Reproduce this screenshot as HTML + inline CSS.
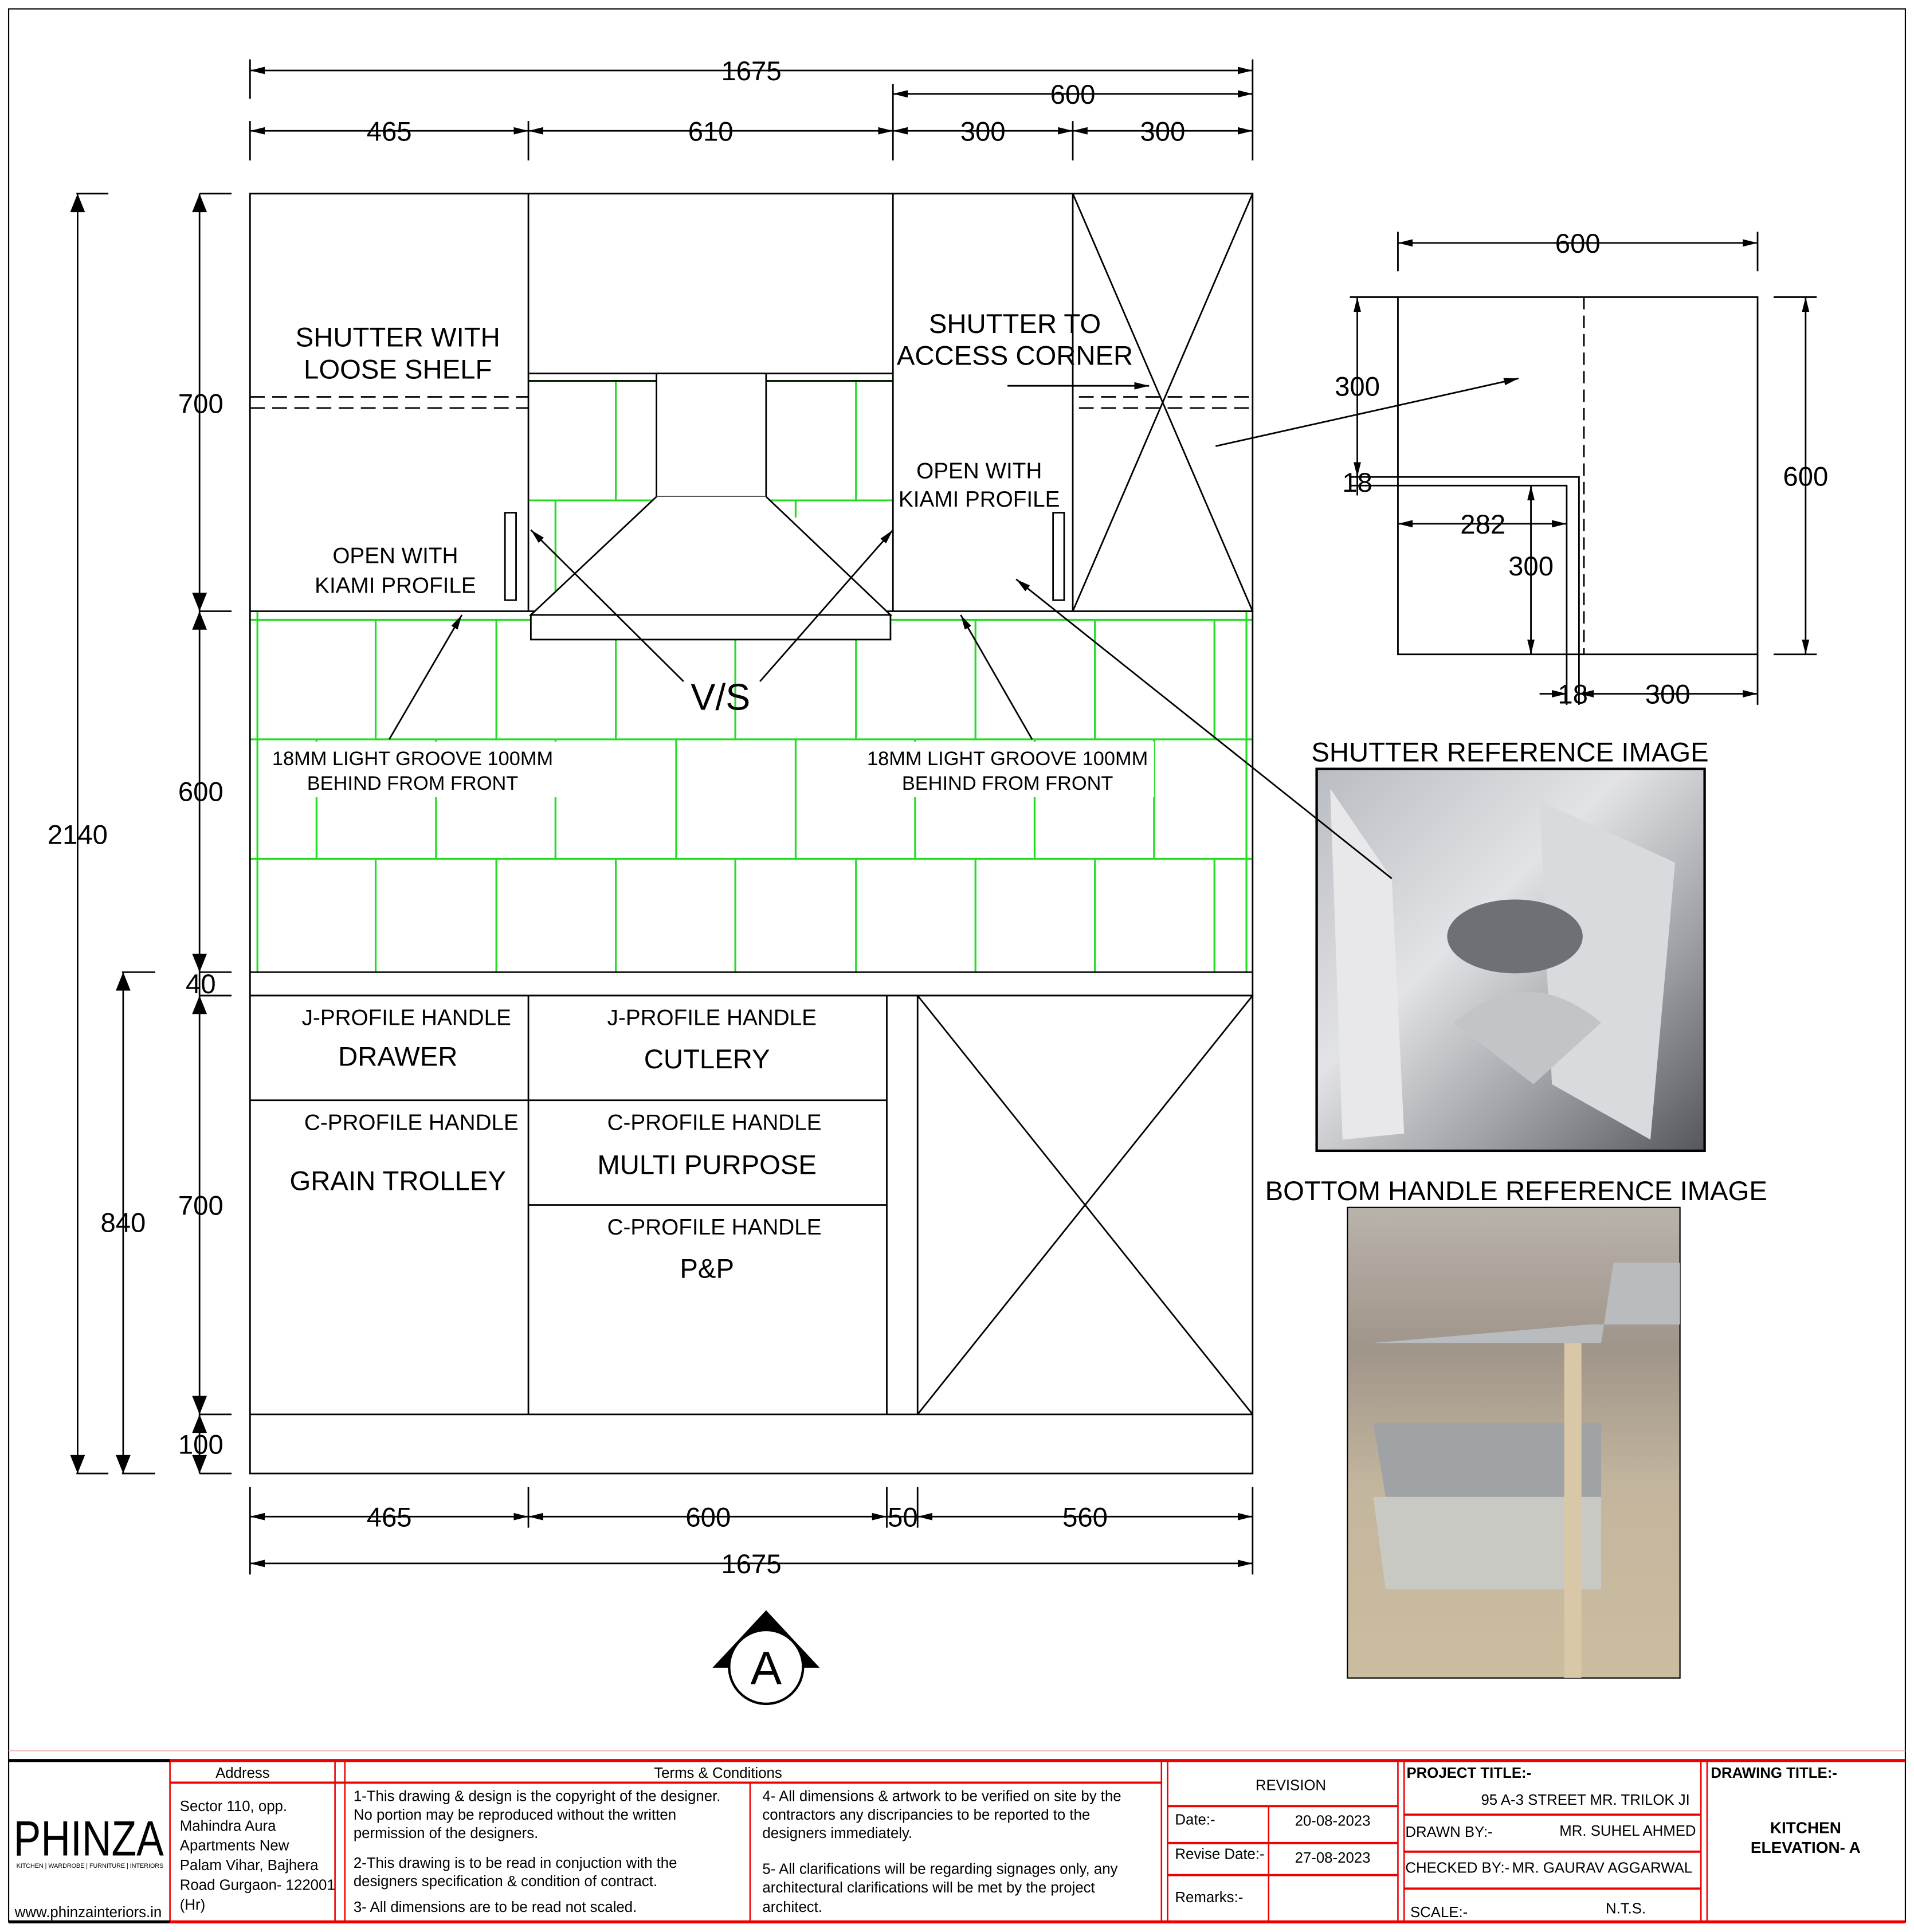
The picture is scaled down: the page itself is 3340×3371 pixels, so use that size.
<!DOCTYPE html>
<html><head><meta charset="utf-8"><style>
html,body{margin:0;padding:0;background:#fff}
svg{display:block}
text{font-family:"Liberation Sans",sans-serif;fill:#000}
</style></head><body>
<svg width="3340" height="3371" viewBox="0 0 1554 1568" xmlns="http://www.w3.org/2000/svg">
<defs>
<marker id="ar" markerWidth="12" markerHeight="6" refX="12" refY="3" orient="auto" markerUnits="userSpaceOnUse"><path d="M0,0 L12,3 L0,6 z" fill="#000"/></marker>
<marker id="al" markerWidth="12" markerHeight="6" refX="0" refY="3" orient="auto" markerUnits="userSpaceOnUse"><path d="M12,0 L0,3 L12,6 z" fill="#000"/></marker>
<linearGradient id="g1" x1="0" y1="0" x2="1" y2="1"><stop offset="0" stop-color="#b9bcc2"/><stop offset="0.4" stop-color="#e2e3e6"/><stop offset="0.7" stop-color="#9fa1a6"/><stop offset="1" stop-color="#55575c"/></linearGradient>
<linearGradient id="g2" x1="0" y1="0" x2="0" y2="1"><stop offset="0" stop-color="#b9b3ab"/><stop offset="0.3" stop-color="#a0958a"/><stop offset="0.6" stop-color="#c4b69e"/><stop offset="1" stop-color="#cbbd9f"/></linearGradient>
</defs>
<!-- photos -->
<rect x="1069" y="624" width="315" height="310" fill="url(#g1)" stroke="#000" stroke-width="2"/>
<path d="M1080 640L1130 713L1140 920L1090 925z" fill="#e8e8ea"/>
<path d="M1250 650L1360 700L1340 925L1260 880z" fill="#d9dadd"/>
<ellipse cx="1230" cy="760" rx="55" ry="30" fill="#6f7075"/>
<path d="M1180 830Q1240 780 1300 830L1245 880z" fill="#c3c4c8"/>
<rect x="1094" y="980" width="270" height="382" fill="url(#g2)" stroke="#000" stroke-width="1"/>
<path d="M1115 1090H1300L1310 1025H1364V1075H1290z" fill="#b8bcbf"/>
<path d="M1115 1155H1300V1215H1125z" fill="#9fa3a6"/>
<path d="M1115 1215H1300V1290H1125z" fill="#c9c9c4"/>
<rect x="1270" y="1090" width="14" height="272" fill="#d8c8a8"/>
<g fill="none" stroke="#000" stroke-width="1.3">
<rect x="7" y="7" width="1540" height="1553" stroke-width="1"/>
<line x1="203" y1="57" x2="1017" y2="57" marker-start="url(#al)" marker-end="url(#ar)"/>
<line x1="725" y1="76" x2="1017" y2="76" marker-start="url(#al)" marker-end="url(#ar)"/>
<line x1="203" y1="106" x2="429" y2="106" marker-start="url(#al)" marker-end="url(#ar)"/>
<line x1="429" y1="106" x2="725" y2="106" marker-start="url(#al)" marker-end="url(#ar)"/>
<line x1="725" y1="106" x2="871" y2="106" marker-start="url(#al)" marker-end="url(#ar)"/>
<line x1="871" y1="106" x2="1017" y2="106" marker-start="url(#al)" marker-end="url(#ar)"/>
<path d="M203 48V80M1017 48V130M725 68V130M203 98V130M429 98V130M871 98V130"/>
<g stroke="#22dd22" stroke-width="1.5">
<path d="M203 503H1017M203 600H1017M203 697H1017M429 309H725M429 406H725"/>
<path d="M305 503V600M403 503V600M500 519V600M597 519V600M695 519V600M792 503V600M889 503V600M986 503V600"/>
<path d="M257 600V697M354 600V697M451 600V697M549 600V697M646 600V697M743 600V697M840 600V697M937 600V697"/>
<path d="M305 697V789M403 697V789M500 697V789M597 697V789M695 697V789M792 697V789M889 697V789M986 697V789"/>
<path d="M500 309V406M695 309V406M451 406V496M549 406V420M646 406V420M209 496V789M1012 496V789"/>
</g>
<rect x="203" y="157" width="814" height="339"/>
<path d="M429 157V496M725 157V496M871 157V496M871 157L1017 496M1017 157L871 496"/>
<path d="M429 303H725M429 309H725"/>
<path d="M203 322H429M203 331H429M876 322H1017M876 331H1017" stroke-dasharray="12,6"/>
<rect x="533" y="303" width="89" height="100" fill="#fff"/>
<path d="M533 403L431 499H723L622 403" fill="#fff"/>
<rect x="431" y="499" width="292" height="20" fill="#fff"/>
<rect x="410" y="416" width="9" height="71"/>
<rect x="855" y="416" width="9" height="71"/>
<path d="M203 496V808M1017 496V808M203 789H1017M203 808H1017"/>
<rect x="203" y="808" width="814" height="388"/>
<path d="M429 808V1148M720 808V1148M745 808V1148M203 1148H1017M203 893H720M429 978H720M745 808L1017 1148M1017 808L745 1148"/>
<line x1="316" y1="600" x2="375" y2="499" marker-end="url(#ar)"/>
<line x1="838" y1="600" x2="780" y2="499" marker-end="url(#ar)"/>
<line x1="555" y1="553" x2="431" y2="430" marker-end="url(#ar)"/>
<line x1="617" y1="553" x2="725" y2="430" marker-end="url(#ar)"/>
<line x1="818" y1="313" x2="933" y2="313" marker-end="url(#ar)"/>
<line x1="987" y1="362" x2="1233" y2="307" marker-end="url(#ar)"/>
<line x1="1130" y1="713" x2="825" y2="470" marker-end="url(#ar)"/>
<path d="M63 157V1196"/>
<path d="M62 157H88M62 1196H88"/>
<path d="M100 789V1196"/>
<path d="M99 789H126M99 1196H126"/>
<path d="M162 157V1196"/>
<path d="M162 157H188M162 496H188M162 789H188M162 808H188M162 1148H188M162 1196H188"/>
<line x1="203" y1="1231" x2="429" y2="1231" marker-start="url(#al)" marker-end="url(#ar)"/>
<line x1="429" y1="1231" x2="720" y2="1231" marker-start="url(#al)" marker-end="url(#ar)"/>
<line x1="720" y1="1231" x2="745" y2="1231"/>
<line x1="745" y1="1231" x2="1017" y2="1231" marker-start="url(#al)" marker-end="url(#ar)"/>
<line x1="203" y1="1269" x2="1017" y2="1269" marker-start="url(#al)" marker-end="url(#ar)"/>
<path d="M203 1207V1278M1017 1207V1278M429 1207V1240M720 1207V1240M745 1207V1240"/>
<rect x="1135" y="241" width="292" height="290"/>
<path d="M1286 241V531" stroke-dasharray="10,5"/>
<path d="M1135 387H1282V531M1135 394H1272V531"/>
<line x1="1135" y1="197" x2="1427" y2="197" marker-start="url(#al)" marker-end="url(#ar)"/>
<path d="M1135 188V220M1427 188V220"/>
<line x1="1466" y1="241" x2="1466" y2="531" marker-start="url(#al)" marker-end="url(#ar)"/>
<path d="M1440 241H1475M1440 531H1475"/>
<line x1="1102" y1="241" x2="1102" y2="387" marker-start="url(#al)" marker-end="url(#ar)"/>
<path d="M1096 241H1135M1096 387H1135M1096 394H1135M1102 380V402"/>
<line x1="1135" y1="425" x2="1272" y2="425" marker-start="url(#al)" marker-end="url(#ar)"/>
<line x1="1243" y1="394" x2="1243" y2="531" marker-start="url(#al)" marker-end="url(#ar)"/>
<line x1="1250" y1="563" x2="1272" y2="563" marker-end="url(#ar)"/>
<line x1="1282" y1="563" x2="1427" y2="563" marker-start="url(#al)" marker-end="url(#ar)"/>
<path d="M1272 531V572M1282 531V572M1427 531V572"/>
<path d="M580 1353L622 1308L664 1353z" fill="#000"/>
<circle cx="622" cy="1353" r="30" fill="#fff" stroke-width="2"/>
</g>
<path d="M57 172L63 157L69 172z M57 1181L63 1196L69 1181z M94 804L100 789L106 804z M94 1181L100 1196L106 1181z M156 172L162 157L168 172z M156 481L162 496L168 481z M156 511L162 496L168 511z M156 774L162 789L168 774z M156 823L162 808L168 823z M156 1133L162 1148L168 1133z M156 1163L162 1148L168 1163z M156 1181L162 1196L168 1181z" fill="#000"/>
<g font-size="22" text-anchor="middle">
<text x="610" y="65">1675</text><text x="871" y="84">600</text>
<text x="316" y="114">465</text><text x="577" y="114">610</text><text x="798" y="114">300</text><text x="944" y="114">300</text>
<text x="316" y="1239">465</text><text x="575" y="1239">600</text><text x="733" y="1239">50</text><text x="881" y="1239">560</text>
<text x="610" y="1277">1675</text>
<text x="163" y="335">700</text><text x="163" y="650">600</text><text x="163" y="806">40</text><text x="163" y="986">700</text><text x="163" y="1180">100</text>
<text x="63" y="685">2140</text><text x="100" y="1000">840</text>
<text x="1281" y="205">600</text><text x="1102" y="321">300</text><text x="1102" y="399">18</text><text x="1204" y="433">282</text><text x="1243" y="467">300</text><text x="1466" y="394">600</text><text x="1277" y="571">18</text><text x="1354" y="571">300</text>
<text x="323" y="281">SHUTTER WITH</text><text x="323" y="307">LOOSE SHELF</text>
<text x="824" y="270">SHUTTER TO</text><text x="824" y="296">ACCESS CORNER</text>
<text x="1226" y="618">SHUTTER REFERENCE IMAGE</text>
<text x="1231" y="974">BOTTOM HANDLE REFERENCE IMAGE</text>
<text x="323" y="865">DRAWER</text><text x="574" y="867">CUTLERY</text>
<text x="323" y="966">GRAIN TROLLEY</text><text x="574" y="953">MULTI PURPOSE</text><text x="574" y="1037">P&amp;P</text>
<text x="585" y="576" font-size="30">V/S</text>
<text x="622" y="1367" font-size="38">A</text>
</g>
<g font-size="18" text-anchor="middle">
<text x="321" y="457">OPEN WITH</text><text x="321" y="481">KIAMI PROFILE</text>
<text x="795" y="388">OPEN WITH</text><text x="795" y="411">KIAMI PROFILE</text>
<text x="330" y="832">J-PROFILE HANDLE</text><text x="578" y="832">J-PROFILE HANDLE</text>
<text x="334" y="917">C-PROFILE HANDLE</text><text x="580" y="917">C-PROFILE HANDLE</text><text x="580" y="1002">C-PROFILE HANDLE</text>
</g>
<g font-size="16" text-anchor="middle">
<rect x="215" y="602" width="240" height="45" fill="#fff"/><rect x="697" y="602" width="240" height="45" fill="#fff"/>
<text x="335" y="621">18MM LIGHT GROOVE 100MM</text><text x="335" y="641">BEHIND FROM FRONT</text>
<text x="818" y="621">18MM LIGHT GROOVE 100MM</text><text x="818" y="641">BEHIND FROM FRONT</text>
</g>
<g stroke="#e00" fill="none" stroke-width="1.2">
<line x1="7" y1="1421" x2="1547" y2="1421" stroke="#f4c0c0"/>
<line x1="138" y1="1429" x2="1547" y2="1429" stroke-width="2.5"/>
<line x1="138" y1="1560" x2="1547" y2="1560" stroke-width="2.5"/>
<path d="M138 1429V1560M272 1429V1560M280 1429V1560M609 1447V1560M943 1429V1560M948 1429V1560M1030 1466V1560M1135 1429V1560M1140 1429V1560M1381 1429V1560M1386 1429V1560"/>
<path d="M138 1447H943M948 1466H1135M948 1496H1135M948 1522H1135M1140 1473H1381M1140 1503H1381M1140 1533H1381" stroke-width="1.8"/>
</g>
<path d="M7 1429H138M7 1560H138" stroke="#000" stroke-width="2.5"/>
<g font-size="12">
<text x="197" y="1443" text-anchor="middle">Address</text>
<text x="583" y="1443" text-anchor="middle">Terms &amp; Conditions</text>
<text x="146" y="1470">Sector 110, opp.</text><text x="146" y="1486">Mahindra Aura</text><text x="146" y="1502">Apartments New</text><text x="146" y="1518">Palam Vihar, Bajhera</text><text x="146" y="1534">Road Gurgaon- 122001</text><text x="146" y="1550">(Hr)</text>
<text x="287" y="1462">1-This drawing &amp; design is the copyright of the designer.</text><text x="287" y="1477">No portion may be reproduced without the written</text><text x="287" y="1492">permission of the designers.</text>
<text x="287" y="1516">2-This drawing is to be read in conjuction with the</text><text x="287" y="1531">designers specification &amp; condition of contract.</text>
<text x="287" y="1552">3- All dimensions are to be read not scaled.</text>
<text x="619" y="1462">4- All dimensions &amp; artwork to be verified on site by the</text><text x="619" y="1477">contractors any discripancies to be reported to the</text><text x="619" y="1492">designers immediately.</text>
<text x="619" y="1521">5- All clarifications will be regarding signages only, any</text><text x="619" y="1536">architectural clarifications will be met by the project</text><text x="619" y="1552">architect.</text>
<text x="1048" y="1453" text-anchor="middle">REVISION</text>
<text x="954" y="1481">Date:-</text><text x="1082" y="1482" text-anchor="middle">20-08-2023</text>
<text x="954" y="1509">Revise Date:-</text><text x="1082" y="1512" text-anchor="middle">27-08-2023</text>
<text x="954" y="1544">Remarks:-</text>
<text x="1142" y="1443" font-weight="bold">PROJECT TITLE:-</text>
<text x="1372" y="1465" text-anchor="end">95 A-3 STREET MR. TRILOK JI</text>
<text x="1141" y="1491">DRAWN BY:-</text><text x="1377" y="1490" text-anchor="end">MR. SUHEL AHMED</text>
<text x="1141" y="1520">CHECKED BY:-</text><text x="1374" y="1520" text-anchor="end">MR. GAURAV AGGARWAL</text>
<text x="1145" y="1556">SCALE:-</text><text x="1320" y="1553" text-anchor="middle">N.T.S.</text>
<text x="1389" y="1443" font-weight="bold">DRAWING TITLE:-</text>
<text x="1466" y="1488" text-anchor="middle" font-weight="bold" font-size="13">KITCHEN</text>
<text x="1466" y="1504" text-anchor="middle" font-weight="bold" font-size="13">ELEVATION- A</text>
<text x="12" y="1556">www.phinzainteriors.in</text>
</g>
<text x="72" y="1506" font-family="Liberation Serif" font-size="40" text-anchor="middle" textLength="122" lengthAdjust="spacingAndGlyphs">PHINZA</text>
<text x="73" y="1516" font-size="5" text-anchor="middle">KITCHEN | WARDROBE | FURNITURE | INTERIORS</text>
</svg>
</body></html>
